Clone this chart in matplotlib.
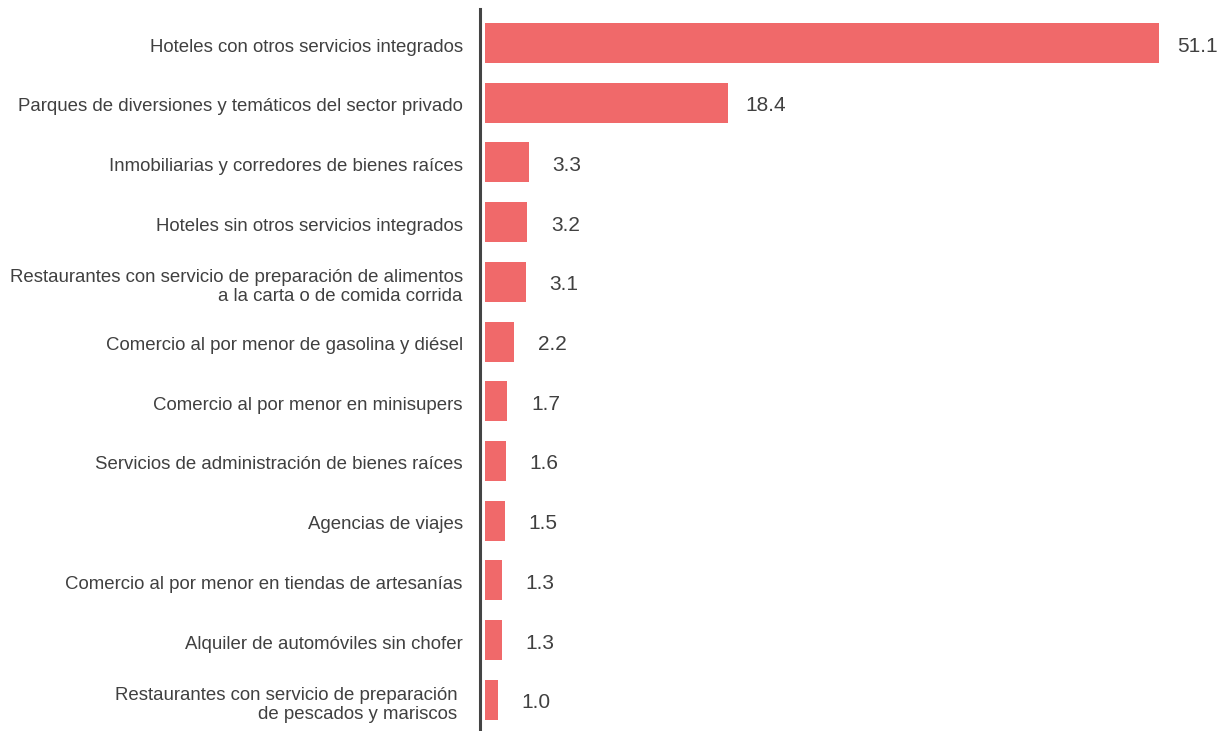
import matplotlib
matplotlib.use("Agg")
import matplotlib.pyplot as plt
from matplotlib.transforms import offset_copy, ScaledTranslation

categories = [
    "Hoteles con otros servicios integrados",
    "Parques de diversiones y temáticos del sector privado",
    "Inmobiliarias y corredores de bienes raíces",
    "Hoteles sin otros servicios integrados",
    "Restaurantes con servicio de preparación de alimentos\na la carta o de comida corrida",
    "Comercio al por menor de gasolina y diésel",
    "Comercio al por menor en minisupers",
    "Servicios de administración de bienes raíces",
    "Agencias de viajes",
    "Comercio al por menor en tiendas de artesanías",
    "Alquiler de automóviles sin chofer",
    "Restaurantes con servicio de preparación \nde pescados y mariscos ",
]
values = [51.1, 18.4, 3.3, 3.2, 3.1, 2.2, 1.7, 1.6, 1.5, 1.3, 1.3, 1.0]
value_labels = ["51.1", "18.4", "3.3", "3.2", "3.1", "2.2", "1.7", "1.6", "1.5", "1.3", "1.3", "1.0"]

plt.rcParams['font.family'] = ['Liberation Sans', 'DejaVu Sans']

W, H = 1220, 731
fig = plt.figure(figsize=(W / 100, H / 100), dpi=100)
ax = fig.add_axes([480 / W, 0, 740 / W, (731 - 9) / H])

pos = list(range(len(values)))
ax.barh(pos, values, height=0.67, color="#F0696A", zorder=2)
ax.set_xlim(-0.38, 55.72)
ax.set_ylim(11.524, -0.5695)

ax.set_yticks(pos)
ax.set_yticklabels(categories, fontsize=13.4, color="#404040", ha="right",
                   multialignment="right", linespacing=1.2)
ax.tick_params(axis="y", length=0, pad=12.5)
ax.set_xticks([])
shift = ScaledTranslation(0, -2 / 100, fig.dpi_scale_trans)
for lbl in ax.get_yticklabels():
    lbl.set_transform(lbl.get_transform() + shift)

for s in ["top", "right", "bottom"]:
    ax.spines[s].set_visible(False)
ax.spines["left"].set_color("#444444")
ax.spines["left"].set_linewidth(2.2)

for p, v, lab in zip(pos, values, value_labels):
    tr = offset_copy(ax.transData, fig=fig, x=38 * 72 / 100, y=-3 * 72 / 100, units="points")
    ax.text(v, p, lab, transform=tr, ha="center", va="center",
            fontsize=15, color="#404040")

fig.savefig("out.png", dpi=100)
